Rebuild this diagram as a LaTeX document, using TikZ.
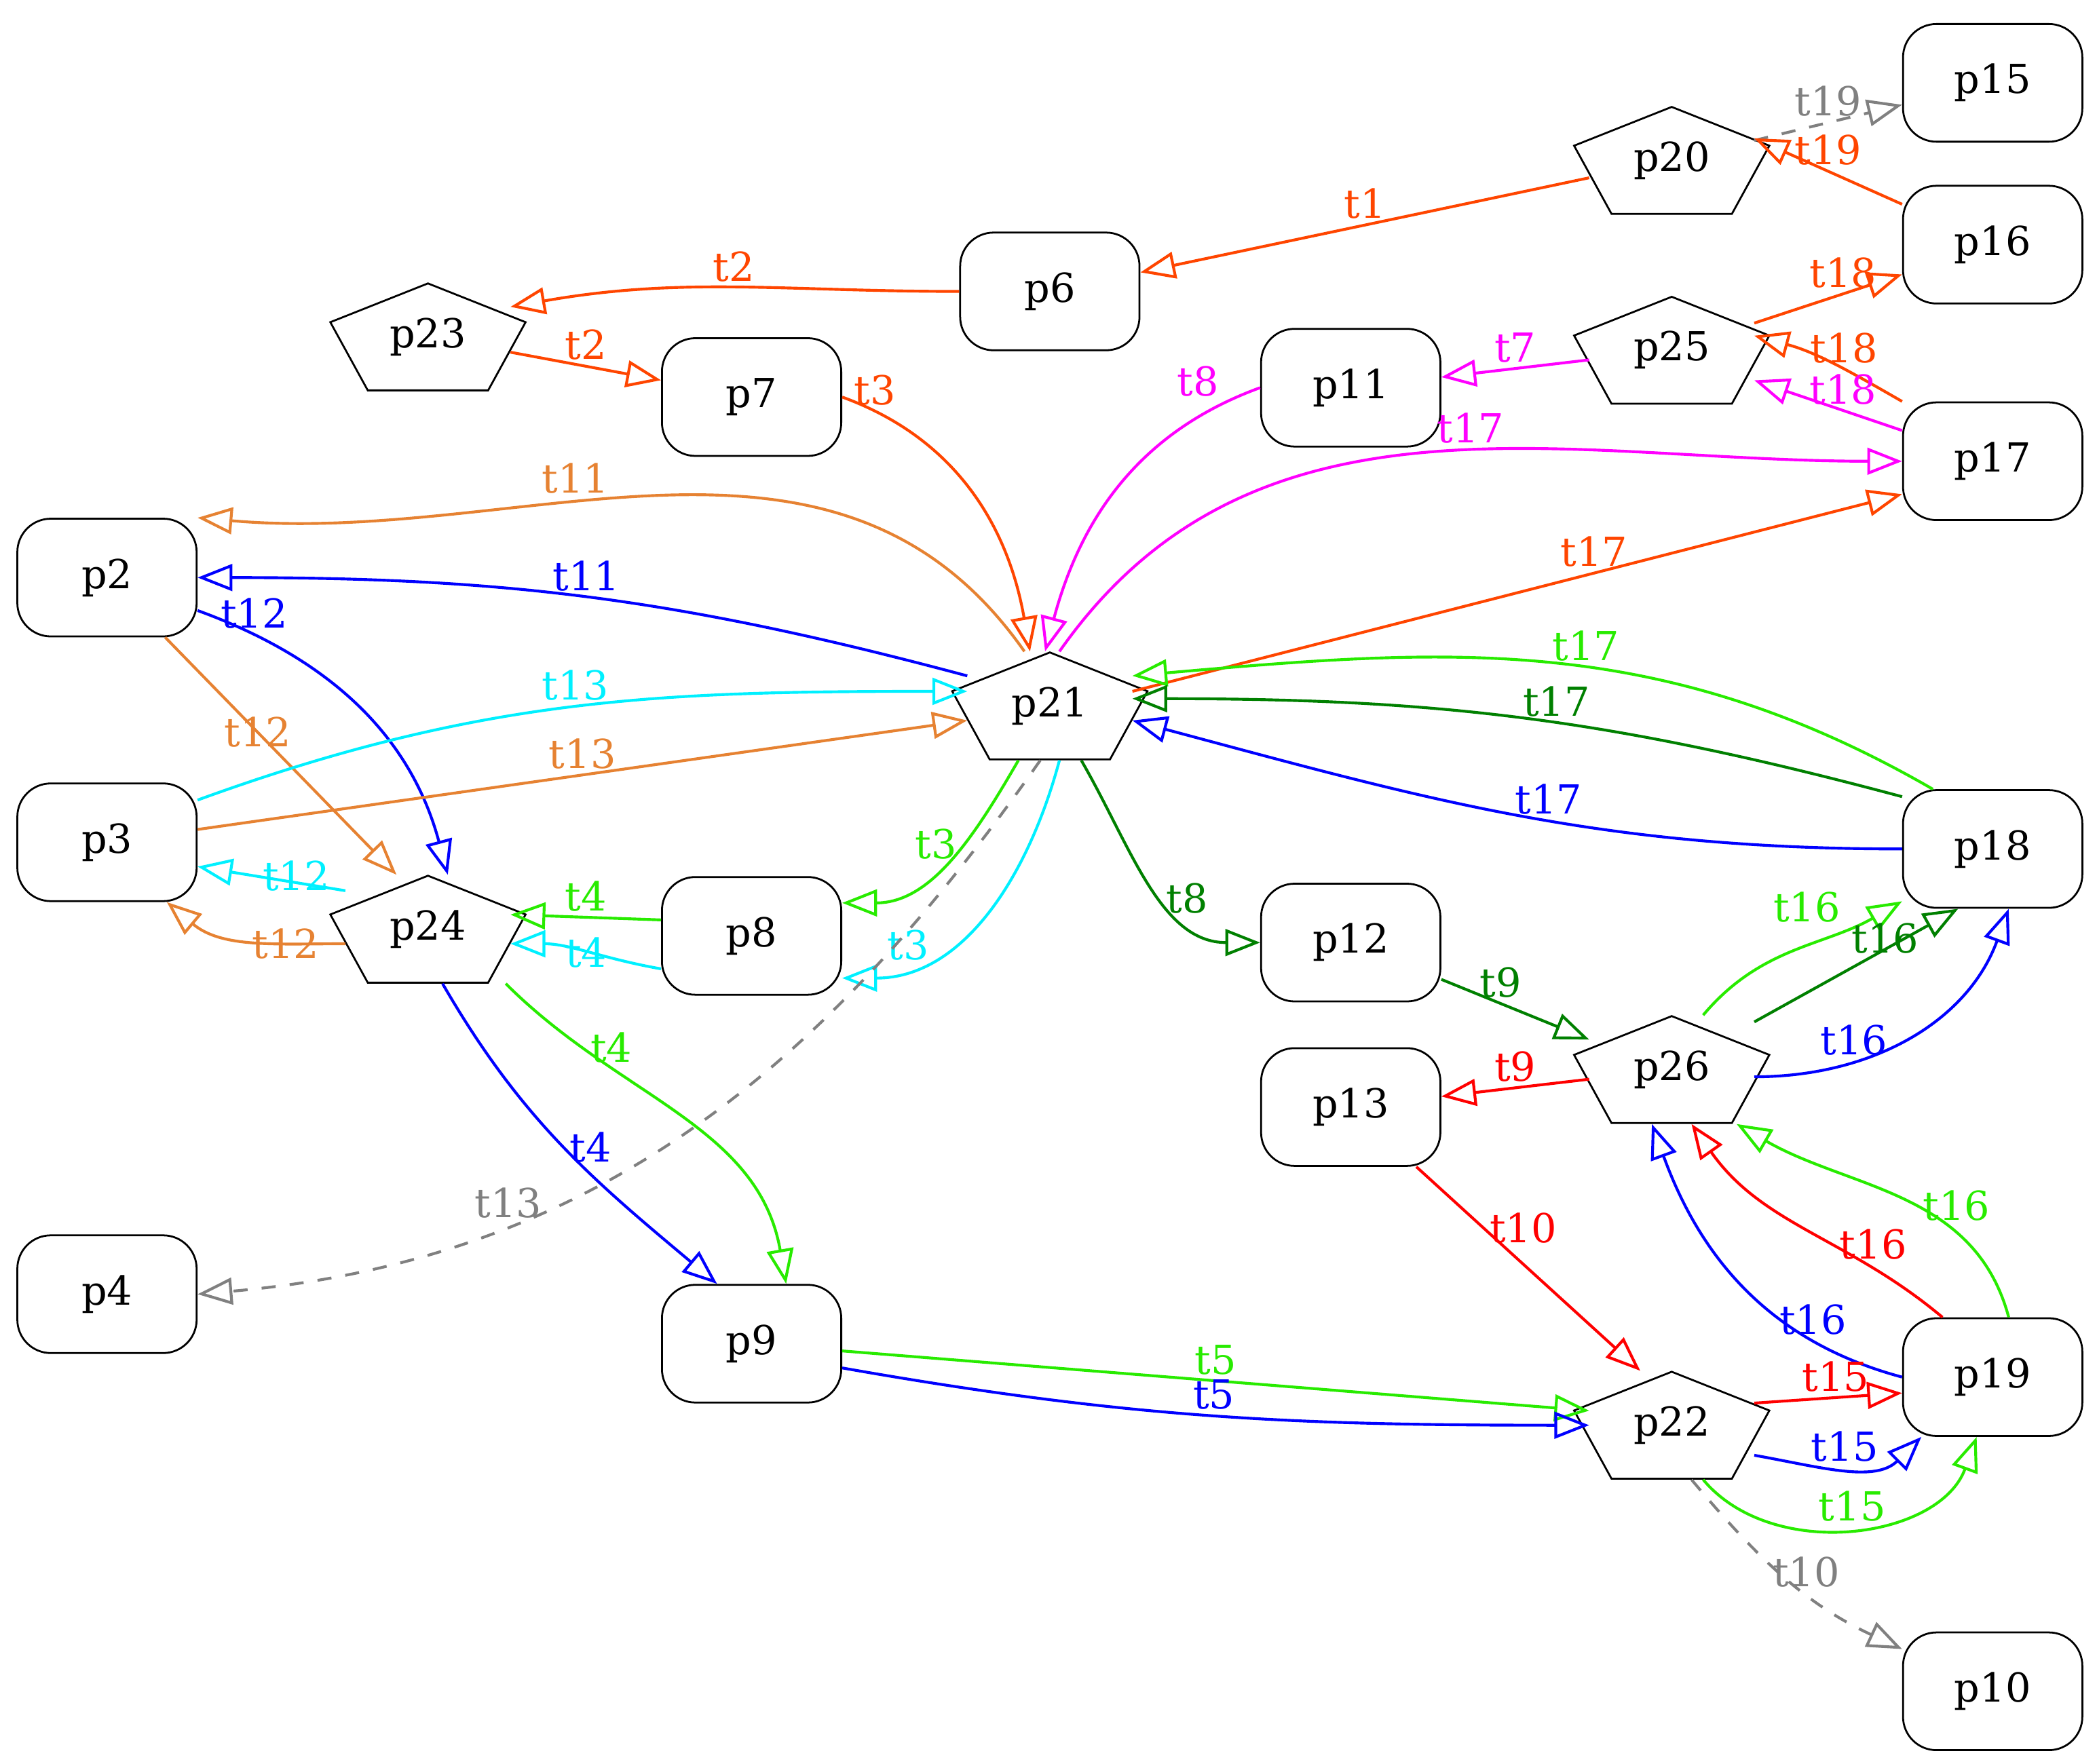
\documentclass[tikz,border=0pt]{standalone}
\usepackage{fontspec}
\setmainfont{DejaVu Serif}
\usetikzlibrary{arrows.meta}
\definecolor{orangeR}{RGB}{255,69,0}
\definecolor{orangeL}{RGB}{230,130,50}
\definecolor{limeG}{RGB}{40,235,0}
\definecolor{darkG}{RGB}{0,128,0}
\definecolor{greyD}{RGB}{128,128,128}
\definecolor{cyanC}{RGB}{0,240,255}
\definecolor{magentaM}{RGB}{255,0,255}
\tikzset{
	place/.style={draw,rounded corners=0.25cm,minimum width=1.34cm,minimum height=0.88cm},
	trans/.style={minimum width=1.22cm,minimum height=0.8cm},
	arc/.style={-{Triangle[open,length=2.6mm,width=2mm]},line width=0.6pt},
	lbl/.style={inner sep=1pt}
}
\begin{document}
\begin{tikzpicture}[x=0.01cm,y=0.01cm,every node/.style={font=\fontsize{8.5}{10}\selectfont}]
		\useasboundingbox (0,0) rectangle (1568,1319);
		% draw place nodes
		\node (p15) at (1490,1257) [place] {p15};
		\node (p16) at (1490,1136) [place] {p16};
		\node (p17) at (1490,974) [place] {p17};
		\node (p18) at (1490,684) [place] {p18};
		\node (p19) at (1490,289) [place] {p19};
		\node (p10) at (1490,54) [place] {p10};
		\node (p6) at (785,1101) [place] {p6};
		\node (p11) at (1010,1029) [place] {p11};
		\node (p12) at (1010,614) [place] {p12};
		\node (p13) at (1010,491) [place] {p13};
		\node (p7) at (562,1022) [place] {p7};
		\node (p8) at (562,619) [place] {p8};
		\node (p9) at (562,314) [place] {p9};
		\node (p2) at (80,887) [place] {p2};
		\node (p3) at (80,689) [place] {p3};
		\node (p4) at (80,351) [place] {p4};
		% draw transition nodes
		\node (p20) at (1250,1199) [trans] {p20};
		\node (p25) at (1250,1057) [trans] {p25};
		\node (p26) at (1250,519) [trans] {p26};
		\node (p22) at (1250,253) [trans] {p22};
		\node (p23) at (320,1067) [trans] {p23};
		\node (p21) at (785,791) [trans] {p21};
		\node (p24) at (320,624) [trans] {p24};
		\foreach \n in {p20,p25,p26,p22,p23,p21,p24}
		{
			\draw ([shift={(0,40)}]\n.center) -- ([shift={(73,11)}]\n.center) -- ([shift={(45,-40)}]\n.center)
				-- ([shift={(-45,-40)}]\n.center) -- ([shift={(-73,11)}]\n.center) -- cycle;
		}
		% draw upper connections
		\draw[arc,greyD,dashed] (p20) -- node[lbl,above,pos=0.5] {t19} (p15);
		\draw[arc,orangeR] (p16) -- node[lbl,above,pos=0.5] {t19} (p20.15);
		\draw[arc,orangeR] (p20) -- node[lbl,above] {t1} (p6);
		\draw[arc,orangeR] (p6) to[out=180,in=10] node[lbl,above] {t2} (p23.20);
		\draw[arc,orangeR] (p23) -- node[lbl,above] {t2} (p7);
		\draw[arc,orangeR] (p7.east) to[out=-20,in=100] node[lbl,above,pos=0.1] {t3} (p21.110);
		\draw[arc,orangeR] (p25) -- node[lbl,above,pos=0.6] {t18} (p16);
		\draw[arc,orangeR] (p17.north west) to[out=150,in=-15] node[lbl,above,pos=0.4] {t18} (p25.10);
		\draw[arc,magentaM] (p17) -- node[lbl,above,pos=0.4] {t18} (p25.-20);
		\draw[arc,magentaM] (p25) -- node[lbl,above] {t7} (p11);
		\draw[arc,magentaM] (p11.west) to[out=200,in=75] node[lbl,above left,pos=0.1] {t8} (p21.95);
		\draw[arc,magentaM] (p21.80) to[out=55,in=180] node[lbl,above,pos=0.55] {t17} (p17.west);
		\draw[arc,orangeR] (p21.10) -- node[lbl,above,pos=0.6] {t17} (p17.200);
		% draw left connections
		\draw[arc,orangeL] (p21.115) to[out=125,in=-5] node[lbl,above,pos=0.6] {t11} (p2.north east);
		\draw[arc,blue] (p21.160) to[out=165,in=0] node[lbl,above,pos=0.5] {t11} (p2.east);
		\draw[arc,blue] (p2.-20) to[out=-20,in=105] node[lbl,above,pos=0.15] {t12} (p24.70);
		\draw[arc,orangeL] (p2) -- node[lbl,pos=0.4] {t12} (p24.120);
		\draw[arc,cyanC] (p3.25) to[out=20,in=180] node[lbl,above,pos=0.5] {t13} (p21.170);
		\draw[arc,orangeL] (p3) -- node[lbl,above,pos=0.5] {t13} (p21.190);
		\draw[arc,cyanC] (p24.155) -- node[lbl,right,pos=0.6] {t12} (p3.-15);
		\draw[arc,orangeL] (p24.-170) to[out=180,in=-40] node[lbl,pos=0.3] {t12} (p3.-45);
		\draw[arc,limeG] (p8.170) -- node[lbl,above] {t4} (p24.10);
		\draw[arc,cyanC] (p8.-160) to[out=170,in=0] node[lbl] {t4} (p24.-10);
		\draw[arc,limeG] (p21.-120) to[out=-120,in=0] node[lbl,pos=0.4,left] {t3} (p8.20);
		\draw[arc,cyanC] (p21.-80) to[out=-105,in=0] node[lbl,pos=0.8,above] {t3} (p8.-25);
		\draw[arc,limeG] (p24.-35) to[out=-45,in=100] node[lbl,above,pos=0.3] {t4} (p9.60);
		\draw[arc,blue] (p24.-75) to[out=-60,in=140] node[lbl,right,pos=0.5] {t4} (p9.120);
		\draw[arc,greyD,dashed] (p21.-100) to[out=-125,in=5] node[lbl,above,pos=0.7] {t13} (p4.east);
		% draw right connections
		\draw[arc,limeG] (p18.135) to[out=150,in=5] node[lbl,above,pos=0.45] {t17} (p21.20);
		\draw[arc,darkG] (p18.150) to[out=165,in=0] node[lbl,above,pos=0.45] {t17} (p21.5);
		\draw[arc,blue] (p18.west) to[out=180,in=-15] node[lbl,above,pos=0.45] {t17} (p21.-10);
		\draw[arc,darkG] (p21.-60) to[out=-60,in=180] node[lbl,above,pos=0.7] {t8} (p12.west);
		\draw[arc,darkG] (p12) -- node[lbl,above,pos=0.4] {t9} (p26.160);
		\draw[arc,red] (p26) -- node[lbl,above] {t9} (p13);
		\draw[arc,limeG] (p26.60) to[out=50,in=-150] node[lbl,above left,pos=0.75] {t16} (p18.-150);
		\draw[arc,darkG] (p26.30) -- node[lbl,above,pos=0.55,xshift=4] {t16} (p18.-120);
		\draw[arc,blue] (p26.-5) to[out=0,in=-110] node[lbl,above,pos=0.3] {t16} (p18.-75);
		\draw[arc,blue] (p19.west) to[out=165,in=-70] node[lbl,above,pos=0.25] {t16} (p26.-110);
		\draw[arc,red] (p19.130) to[out=140,in=-55] node[lbl,right,pos=0.4] {t16} (p26.-70);
		\draw[arc,limeG] (p19.75) to[out=105,in=-30] node[lbl,right,pos=0.45] {t16} (p26.-40);
		\draw[arc,red] (p13) -- node[lbl,right,pos=0.3] {t10} (p22.120);
		\draw[arc,limeG] (p9) -- node[lbl,above,pos=0.5] {t5} (p22.170);
		\draw[arc,blue] (p9.-15) to[out=-10,in=180] node[lbl,above,pos=0.5] {t5} (p22.west);
		\draw[arc,red] (p22.15) -- node[lbl,above,pos=0.55] {t15} (p19.-170);
		\draw[arc,blue] (p22.-20) to[out=-10,in=-135] node[lbl,above,pos=0.5] {t15} (p19.-140);
		\draw[arc,limeG] (p22.-60) to[out=-50,in=-110] node[lbl,above,pos=0.5] {t15} (p19.-105);
		\draw[arc,greyD,dashed] (p22.-70) to[out=-50,in=155] node[lbl,above,pos=0.6] {t10} (p10.155);
\end{tikzpicture}
\end{document}
